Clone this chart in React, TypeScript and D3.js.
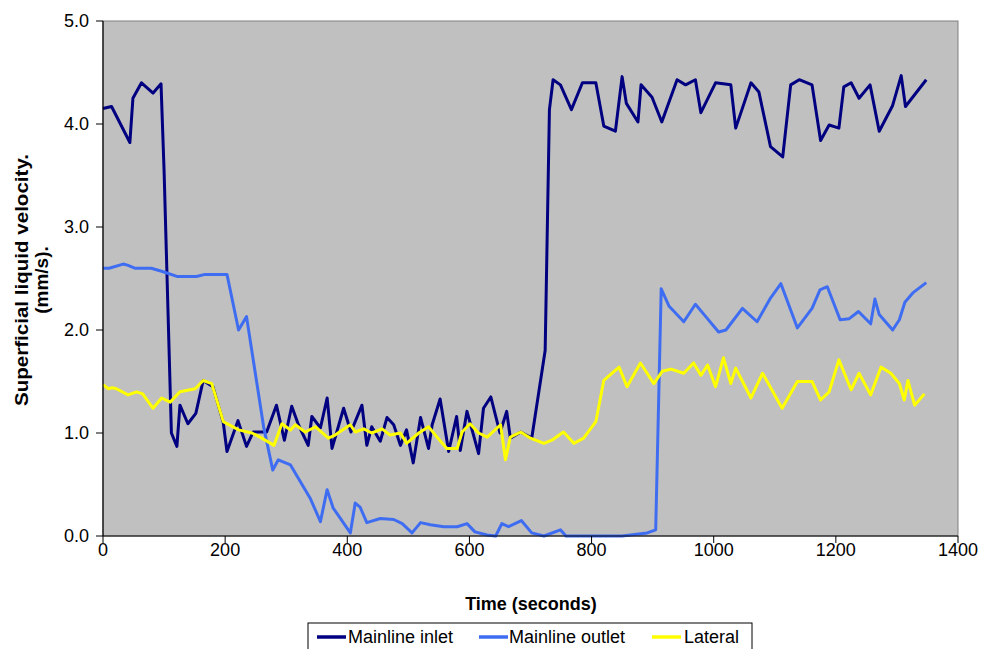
import React from "react";
import * as d3 from "d3";

// ---- data ----
const inletTime = [0,14,44,49,63,82,95,100,112,121,126,139,152,164,180,197,203,221,235,246,268,284,297,309,320,336,342,356,367,375,394,406,424,432,440,454,465,476,487,497,508,520,533,539,552,566,579,585,596,615,623,635,650,661,667,684,702,724,731,737,749,767,785,807,820,839,850,857,876,881,899,915,940,954,970,979,1003,1028,1036,1061,1074,1093,1113,1126,1140,1161,1175,1189,1205,1213,1225,1238,1256,1271,1293,1307,1314,1348];
const inletValue = [4.15,4.17,3.82,4.25,4.40,4.30,4.39,3.55,1.0,0.87,1.27,1.09,1.19,1.51,1.45,1.1,0.82,1.12,0.87,1.01,1.01,1.27,0.93,1.26,1.08,0.88,1.16,1.05,1.34,0.85,1.24,1.01,1.27,0.88,1.06,0.92,1.15,1.08,0.88,1.03,0.71,1.15,0.85,1.08,1.33,0.82,1.16,0.83,1.21,0.80,1.24,1.35,1.0,1.21,0.95,1.01,0.95,1.8,4.14,4.43,4.38,4.14,4.40,4.40,3.98,3.93,4.46,4.20,4.02,4.38,4.26,4.02,4.43,4.38,4.43,4.11,4.40,4.38,3.96,4.40,4.31,3.78,3.68,4.38,4.43,4.38,3.84,3.99,3.96,4.36,4.40,4.25,4.38,3.93,4.18,4.47,4.17,4.43];

const outletTime = [0,10,33,40,52,79,96,121,153,167,203,222,235,263,278,287,307,339,356,367,377,383,405,413,421,432,454,476,490,506,520,536,558,580,596,609,629,643,653,664,685,702,722,749,758,800,850,891,905,914,927,951,970,987,1008,1020,1047,1071,1093,1110,1137,1161,1174,1186,1207,1222,1237,1257,1264,1271,1293,1304,1313,1326,1348];
const outletValue = [2.60,2.60,2.64,2.63,2.60,2.60,2.57,2.52,2.52,2.54,2.54,2.0,2.13,1.06,0.64,0.74,0.69,0.37,0.14,0.45,0.27,0.22,0.03,0.32,0.28,0.13,0.17,0.16,0.12,0.03,0.13,0.11,0.09,0.09,0.12,0.04,0.01,0.0,0.12,0.09,0.15,0.03,0.0,0.06,0.0,0.0,0.0,0.03,0.06,2.40,2.23,2.08,2.25,2.13,1.98,2.0,2.21,2.08,2.31,2.45,2.02,2.21,2.39,2.42,2.10,2.11,2.18,2.06,2.30,2.15,2.0,2.10,2.27,2.36,2.46];

const lateralTime = [0,9,15,22,41,55,65,82,96,110,126,151,164,178,197,222,244,260,280,293,307,315,331,348,369,380,405,413,427,440,457,470,487,497,517,533,547,563,580,588,601,615,629,651,659,667,684,700,722,735,754,771,787,807,820,845,858,880,902,916,930,951,967,979,990,1003,1016,1028,1036,1061,1080,1112,1137,1161,1175,1189,1205,1225,1238,1257,1274,1290,1304,1312,1318,1329,1345];
const lateralValue = [1.47,1.43,1.44,1.43,1.37,1.40,1.38,1.24,1.34,1.30,1.40,1.43,1.51,1.48,1.11,1.03,1.0,0.95,0.88,1.09,1.03,1.08,1.01,1.06,0.95,0.98,1.08,1.01,1.04,1.0,1.04,0.98,1.0,0.9,1.0,1.06,0.96,0.85,0.85,1.01,1.09,1.0,0.96,1.08,0.74,0.96,1.01,0.95,0.90,0.93,1.01,0.90,0.95,1.11,1.51,1.64,1.45,1.68,1.48,1.60,1.62,1.58,1.68,1.56,1.66,1.45,1.73,1.48,1.63,1.34,1.58,1.24,1.50,1.50,1.32,1.40,1.71,1.42,1.58,1.37,1.64,1.58,1.48,1.32,1.51,1.27,1.38];

const xTicks = [0, 200, 400, 600, 800, 1000, 1200, 1400];
const yTicks = [0, 1, 2, 3, 4, 5];
const seriesNames = ["Mainline inlet", "Mainline outlet", "Lateral"];
const seriesColors = ["#000080", "#3f6df2", "#ffff00"];

const W = 982;
const H = 649;
const plot = { left: 103, right: 958, top: 21, bottom: 536 };
const font = "'Liberation Sans', Arial, sans-serif";
const fs = 18;

export default function App() {
  const x = d3.scaleLinear().domain([0, 1400]).range([plot.left, plot.right]);
  const y = d3.scaleLinear().domain([0, 5]).range([plot.bottom, plot.top]);
  const line = d3
    .line<[number, number]>()
    .x((d) => x(d[0]))
    .y((d) => y(d[1]));

  const series = [
    inletTime.map((t, i) => [t, inletValue[i]] as [number, number]),
    outletTime.map((t, i) => [t, outletValue[i]] as [number, number]),
    lateralTime.map((t, i) => [t, lateralValue[i]] as [number, number]),
  ];

  const legend = [
    { sx: 317, tx: 348 },
    { sx: 479, tx: 509 },
    { sx: 652, tx: 684 },
  ];

  return (
    <svg
      width={W}
      height={H}
      style={{ position: "absolute", left: 0, top: 0, background: "#fff" }}
      fontFamily={font}
    >
      <rect
        x={plot.left}
        y={plot.top}
        width={plot.right - plot.left}
        height={plot.bottom - plot.top}
        fill="#c0c0c0"
        stroke="#808080"
        strokeWidth={1}
      />
      {series.map((s, i) => (
        <path
          key={i}
          d={line(s) || ""}
          fill="none"
          stroke={seriesColors[i]}
          strokeWidth={3}
          strokeLinejoin="round"
        />
      ))}
      {/* axes */}
      <line x1={plot.left} x2={plot.left} y1={plot.top} y2={plot.bottom} stroke="#000" strokeWidth={1.2} />
      <line x1={plot.left} x2={plot.right} y1={plot.bottom} y2={plot.bottom} stroke="#000" strokeWidth={1.2} />
      {yTicks.map((t) => (
        <g key={"y" + t}>
          <line x1={plot.left - 7} x2={plot.left} y1={y(t)} y2={y(t)} stroke="#000" />
          <text x={plot.left - 14} y={y(t) + 6} textAnchor="end" fontSize={fs} fill="#000">
            {t.toFixed(1)}
          </text>
        </g>
      ))}
      {xTicks.map((t) => (
        <g key={"x" + t}>
          <line x1={x(t)} x2={x(t)} y1={plot.bottom} y2={plot.bottom + 7} stroke="#000" />
          <text x={x(t)} y={556} textAnchor="middle" fontSize={fs} fill="#000">
            {t}
          </text>
        </g>
      ))}
      <text x={531} y={610} textAnchor="middle" fontSize={fs} fontWeight="bold" fill="#000">
        Time (seconds)
      </text>
      <text
        transform="translate(28,280) rotate(-90)"
        textAnchor="middle"
        fontSize={19}
        fontWeight="bold"
        fill="#000"
        textLength={252}
        lengthAdjust="spacingAndGlyphs"
      >
        Superficial liquid velocity.
      </text>
      <text
        transform="translate(48,280) rotate(-90)"
        textAnchor="middle"
        fontSize={19}
        fontWeight="bold"
        fill="#000"
      >
        (mm/s).
      </text>
      {/* legend */}
      <rect x={308} y={623} width={444} height={32} fill="#fff" stroke="#000" strokeWidth={1} />
      {seriesNames.map((n, i) => (
        <g key={n}>
          <line
            x1={legend[i].sx}
            x2={legend[i].sx + 29}
            y1={637}
            y2={637}
            stroke={seriesColors[i]}
            strokeWidth={3.5}
          />
          <text x={legend[i].tx} y={643} fontSize={fs} fill="#000">
            {n}
          </text>
        </g>
      ))}
    </svg>
  );
}
